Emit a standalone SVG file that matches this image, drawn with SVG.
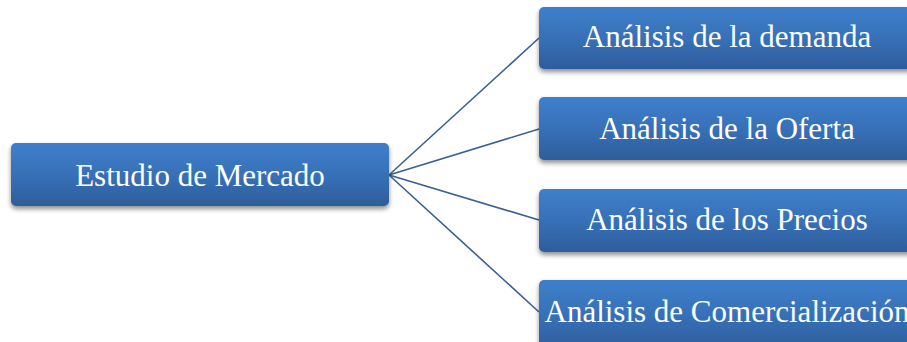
<svg xmlns="http://www.w3.org/2000/svg" width="907" height="342" viewBox="0 0 907 342">
  <defs>
    <linearGradient id="boxFill" x1="0" y1="0" x2="0" y2="1">
      <stop offset="0" stop-color="#3e7fcb"/>
      <stop offset="0.55" stop-color="#366fb5"/>
      <stop offset="1" stop-color="#2e5d9b"/>
    </linearGradient>
    <filter id="shadow" x="-10%" y="-30%" width="120%" height="170%">
      <feGaussianBlur in="SourceAlpha" stdDeviation="2.5"/>
      <feOffset dx="0" dy="3" result="b"/>
      <feComponentTransfer><feFuncA type="linear" slope="0.45"/></feComponentTransfer>
      <feMerge><feMergeNode/><feMergeNode in="SourceGraphic"/></feMerge>
    </filter>
  </defs>
  <style>
    .box { fill: url(#boxFill); filter: url(#shadow); }
    .label { font-family: "Liberation Serif", "Times New Roman", serif; font-size: 31px; fill: #ffffff; text-anchor: middle; }
    .link { stroke: #3a5f92; stroke-width: 1.6; fill: none; }
  </style>
  <rect width="907" height="342" fill="#ffffff"/>

  <g id="connectors">
    <line class="link" x1="389" y1="175" x2="539" y2="38"/>
    <line class="link" x1="389" y1="175" x2="539" y2="129"/>
    <line class="link" x1="389" y1="175" x2="539" y2="220"/>
    <line class="link" x1="389" y1="175" x2="539" y2="312"/>
  </g>

  <g id="estudio">
    <rect class="box" x="11" y="143" width="378" height="63" rx="5"/>
    <text class="label" x="200" y="186">Estudio de Mercado</text>
  </g>

  <g id="demanda">
    <rect class="box" x="539" y="7" width="380" height="62" rx="5"/>
    <text class="label" x="727" y="47">Análisis de la demanda</text>
  </g>

  <g id="oferta">
    <rect class="box" x="539" y="97" width="380" height="63" rx="5"/>
    <text class="label" x="727" y="139">Análisis de la Oferta</text>
  </g>

  <g id="precios">
    <rect class="box" x="539" y="189" width="380" height="63" rx="5"/>
    <text class="label" x="727" y="230">Análisis de los Precios</text>
  </g>

  <g id="comercializacion">
    <rect class="box" x="539" y="280" width="380" height="70" rx="5"/>
    <text class="label" x="727" y="322">Análisis de Comercialización</text>
  </g>
</svg>
